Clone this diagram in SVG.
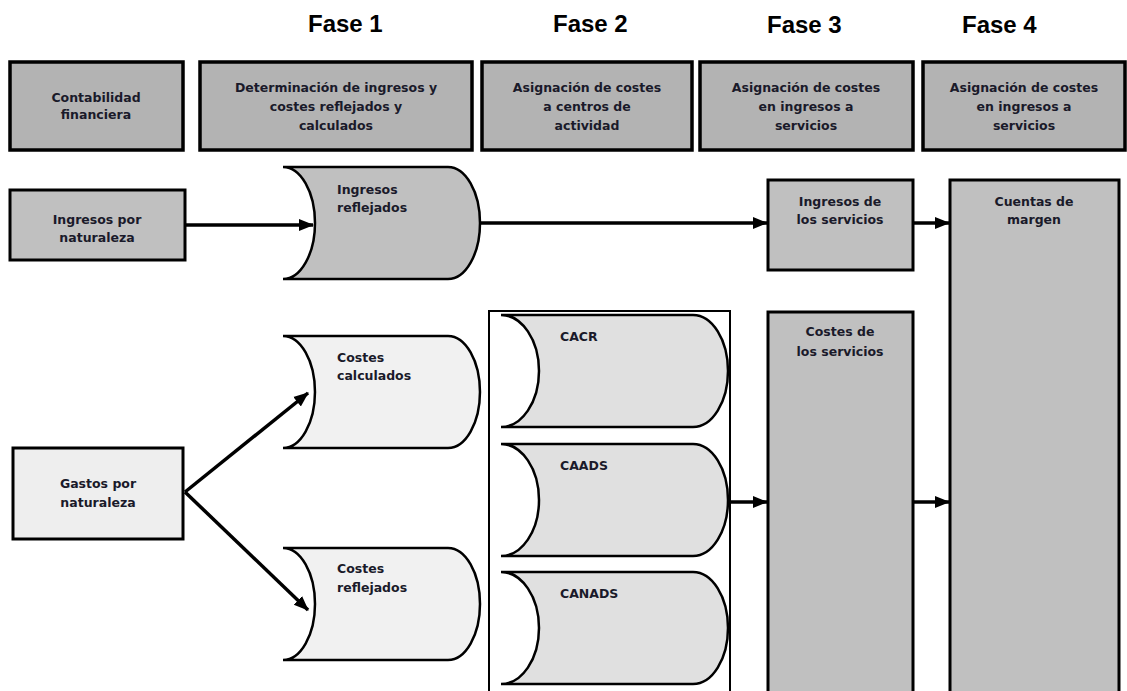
<svg xmlns="http://www.w3.org/2000/svg" width="1127" height="691" viewBox="0 0 1127 691">
<defs>
<marker id="ah" markerUnits="userSpaceOnUse" markerWidth="16" markerHeight="14" refX="14" refY="7" orient="auto">
<path d="M0,1 L15,7 L0,13 z" fill="#000"/>
</marker>
</defs>
<style>
.hdr{fill:#b3b3b3;stroke:#000;stroke-width:3.5}
.box{fill:#c0c0c0;stroke:#000;stroke-width:3}
.light{fill:#eeeeee;stroke:#000;stroke-width:3}
.store{stroke:#000;stroke-width:2.5}
.cont{fill:#fff;stroke:#000;stroke-width:2}
.t{font-family:"DejaVu Sans","Liberation Sans",sans-serif;font-weight:bold;font-size:12.5px;fill:#1a1a2a}
.c{text-anchor:middle}
.fase{font-family:"Liberation Sans",Arial,sans-serif;font-weight:bold;font-size:24px;fill:#000}
.con{stroke:#000;stroke-width:3.5;fill:none;marker-end:url(#ah)}
</style>
<rect width="1127" height="691" fill="#fff"/>
<g id="fases">
<text class="fase" x="308" y="32">Fase 1</text>
<text class="fase" x="553" y="32">Fase 2</text>
<text class="fase" x="767" y="33">Fase 3</text>
<text class="fase" x="962" y="33">Fase 4</text>
</g>
<g id="h1"><rect class="hdr" x="10" y="62" width="173" height="88"/>
<text class="t c" x="96" y="102">Contabilidad</text><text class="t c" x="96" y="119">financiera</text></g>
<g id="h2"><rect class="hdr" x="200" y="62" width="272" height="88"/>
<text class="t c" x="336" y="92">Determinación de ingresos y</text><text class="t c" x="336" y="111">costes reflejados y</text><text class="t c" x="336" y="130">calculados</text></g>
<g id="h3"><rect class="hdr" x="482" y="62" width="210" height="88"/>
<text class="t c" x="587" y="92">Asignación de costes</text><text class="t c" x="587" y="111">a centros de</text><text class="t c" x="587" y="130">actividad</text></g>
<g id="h4"><rect class="hdr" x="700" y="62" width="213" height="88"/>
<text class="t c" x="806" y="92">Asignación de costes</text><text class="t c" x="806" y="111">en ingresos a</text><text class="t c" x="806" y="130">servicios</text></g>
<g id="h5"><rect class="hdr" x="923" y="62" width="202" height="88"/>
<text class="t c" x="1024" y="92">Asignación de costes</text><text class="t c" x="1024" y="111">en ingresos a</text><text class="t c" x="1024" y="130">servicios</text></g>

<g id="ingNat"><rect class="box" x="10" y="190" width="175" height="70"/>
<text class="t c" x="97" y="224">Ingresos por</text><text class="t c" x="97" y="242">naturaleza</text></g>
<g id="ingRef"><path class="store" fill="#c0c0c0" d="M283,167 H448 A32,56 0 0 1 448,279 H283 A32,56 0 0 0 283,167 Z"/>
<text class="t" x="337" y="194">Ingresos</text><text class="t" x="337" y="212">reflejados</text></g>
<g id="cosCal"><path class="store" fill="#f1f1f1" d="M283,336 H448 A32,56 0 0 1 448,448 H283 A32,56 0 0 0 283,336 Z"/>
<text class="t" x="337" y="362">Costes</text><text class="t" x="337" y="380">calculados</text></g>
<g id="cosRef"><path class="store" fill="#f1f1f1" d="M283,548 H448 A32,56 0 0 1 448,660 H283 A32,56 0 0 0 283,548 Z"/>
<text class="t" x="337" y="573">Costes</text><text class="t" x="337" y="592">reflejados</text></g>
<g id="gasNat"><rect class="light" x="13" y="448" width="170" height="91"/>
<text class="t c" x="98" y="488">Gastos por</text><text class="t c" x="98" y="507">naturaleza</text></g>

<g id="fase2"><rect class="cont" x="489" y="311" width="241" height="390"/></g>
<g id="cacr"><path class="store" fill="#e0e0e0" d="M501,315 H693 A35,56 0 0 1 693,427 H501 A38,56 0 0 0 501,315 Z"/>
<text class="t" x="560" y="341">CACR</text></g>
<g id="caads"><path class="store" fill="#e0e0e0" d="M501,444 H693 A35,56 0 0 1 693,556 H501 A38,56 0 0 0 501,444 Z"/>
<text class="t" x="560" y="470">CAADS</text></g>
<g id="canads"><path class="store" fill="#e0e0e0" d="M501,572 H693 A35,56 0 0 1 693,684 H501 A38,56 0 0 0 501,572 Z"/>
<text class="t" x="560" y="598">CANADS</text></g>

<g id="ingServ"><rect class="box" x="768" y="180" width="145" height="90"/>
<text class="t c" x="840" y="206">Ingresos de</text><text class="t c" x="840" y="224">los servicios</text></g>
<g id="cosServ"><rect class="box" x="768" y="312" width="145" height="390"/>
<text class="t c" x="840" y="336">Costes de</text><text class="t c" x="840" y="356">los servicios</text></g>
<g id="cuentas"><rect class="box" x="950" y="180" width="169" height="520"/>
<text class="t c" x="1034" y="206">Cuentas de</text><text class="t c" x="1034" y="224">margen</text></g>

<g id="connectors">
<line class="con" x1="185" y1="225" x2="313" y2="225"/>
<line class="con" x1="480" y1="223" x2="767" y2="223"/>
<line class="con" x1="913" y1="223" x2="949" y2="223"/>
<line class="con" x1="185" y1="492" x2="308" y2="393"/>
<line class="con" x1="185" y1="492" x2="308" y2="610"/>
<line class="con" x1="730" y1="502" x2="767" y2="502"/>
<line class="con" x1="913" y1="502" x2="949" y2="502"/>
</g>
</svg>
